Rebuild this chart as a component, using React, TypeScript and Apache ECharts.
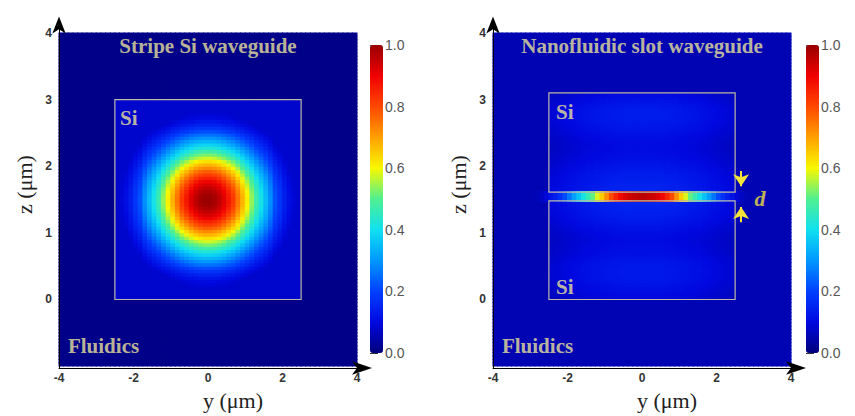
import React, { useEffect, useRef } from 'react';
import * as echarts from 'echarts';

// ---------- grid of the field maps ----------
const Y_MIN = -4;
const Y_MAX = 4;
const Z_MIN = -1;
const Z_MAX = 4;
const Y_CELL = 0.125; // 64 columns
const Z_CELL = 0.05; // 100 rows

const X_TICKS = [-4, -2, 0, 2, 4];
const Z_TICKS = [0, 1, 2, 3, 4];
const BAR_TICKS = [0, 0.2, 0.4, 0.6, 0.8, 1.0];

// ---------- stripe Si waveguide (left) ----------
// horizontal cut through the mode centre (z = 1.5), one value per column (y = -4 .. 4)
const leftModeY = [
  0, 0, 0, 0, 0, 0, 0, 0, 0, 0, 0, 0,
  0.075, 0.09, 0.11, 0.14, 0.18, 0.22, 0.29, 0.35, 0.41, 0.47, 0.54, 0.61, 0.68, 0.75, 0.82, 0.87, 0.92, 0.96, 0.985, 0.998,
  0.998, 0.985, 0.96, 0.92, 0.87, 0.82, 0.75, 0.68, 0.61, 0.54, 0.47, 0.41, 0.35, 0.29, 0.22, 0.18, 0.14, 0.11, 0.09, 0.075,
  0, 0, 0, 0, 0, 0, 0, 0, 0, 0, 0, 0,
];
// vertical cut through the mode centre (y = 0), one value per row (z = -1 .. 4)
const leftModeZ = [
  0, 0, 0, 0, 0, 0, 0, 0, 0, 0, 0, 0, 0, 0, 0, 0, 0, 0, 0, 0,
  0.06, 0.065, 0.072, 0.08, 0.093, 0.105, 0.125, 0.15, 0.18, 0.215, 0.26, 0.3, 0.342, 0.385, 0.431,
  0.478, 0.528, 0.578, 0.629, 0.679, 0.729, 0.776, 0.821, 0.862, 0.899, 0.932, 0.958, 0.978, 0.992, 0.999,
  0.999, 0.992, 0.978, 0.958, 0.932, 0.899, 0.862, 0.821, 0.776, 0.729, 0.679, 0.629, 0.578, 0.528, 0.478,
  0.431, 0.385, 0.342, 0.3, 0.26, 0.215, 0.18, 0.15, 0.125, 0.105, 0.093, 0.08, 0.072, 0.065, 0.06,
  0, 0, 0, 0, 0, 0, 0, 0, 0, 0, 0, 0, 0, 0, 0, 0, 0, 0, 0, 0,
];
const LEFT_CORE_LEVEL = 0.08;
const LEFT_FLUID_LEVEL = 0.012;
const leftBoxes = [[-2.5, 2.5, 0, 3]]; // [yMin, yMax, zMin, zMax]

// ---------- nanofluidic slot waveguide (right) ----------
// field along the slot, one value per column
const rightSlotY = [
  0.055, 0.055, 0.055, 0.055, 0.055, 0.055, 0.055, 0.055, 0.055, 0.06, 0.07, 0.09,
  0.12, 0.14, 0.17, 0.21, 0.26, 0.31, 0.36, 0.41, 0.46, 0.51, 0.58, 0.65, 0.72, 0.8, 0.85, 0.89, 0.92, 0.94, 0.95, 0.96,
  0.96, 0.95, 0.94, 0.92, 0.89, 0.85, 0.8, 0.72, 0.65, 0.58, 0.51, 0.46, 0.41, 0.36, 0.31, 0.26, 0.21, 0.17, 0.14, 0.12,
  0.09, 0.07, 0.06, 0.055, 0.055, 0.055, 0.055, 0.055, 0.055, 0.055, 0.055, 0.055,
];
// faint field inside the Si blocks: lateral shape and vertical level
const rightGlowY = [
  0.6, 0.6, 0.6, 0.6, 0.6, 0.6, 0.6, 0.6, 0.6, 0.6, 0.6, 0.6,
  0.65, 0.68, 0.71, 0.74, 0.77, 0.8, 0.83, 0.86, 0.88, 0.9, 0.92, 0.94, 0.96, 0.97, 0.98, 0.99, 1, 1, 1, 1,
  1, 1, 1, 1, 0.99, 0.98, 0.97, 0.96, 0.94, 0.92, 0.9, 0.88, 0.86, 0.83, 0.8, 0.77, 0.74, 0.71, 0.68, 0.65,
  0.6, 0.6, 0.6, 0.6, 0.6, 0.6, 0.6, 0.6, 0.6, 0.6, 0.6, 0.6,
];
const rightGlowZ = [
  0.055, 0.055, 0.055, 0.055, 0.055, 0.055, 0.055, 0.055, 0.055, 0.055,
  0.055, 0.055, 0.055, 0.055, 0.055, 0.055, 0.055, 0.055, 0.055, 0.055,
  0.1, 0.105, 0.11, 0.115, 0.12, 0.125, 0.128, 0.13, 0.13, 0.13, 0.128, 0.125, 0.12, 0.115, 0.112,
  0.11, 0.107, 0.105, 0.105, 0.108, 0.112, 0.118, 0.124, 0.13, 0.135, 0.14, 0.143, 0.146, 0.148, 0.15,
  0.15, 0.15,
  0.15, 0.148, 0.146, 0.143, 0.14, 0.137, 0.133, 0.128, 0.123, 0.118, 0.113, 0.11, 0.107, 0.105, 0.105,
  0.107, 0.11, 0.115, 0.12, 0.125, 0.13, 0.133, 0.135, 0.136, 0.135, 0.132, 0.127, 0.12, 0.113, 0.105,
  0.055, 0.055, 0.055, 0.055, 0.055, 0.055, 0.055, 0.055, 0.055,
  0.055, 0.055, 0.055, 0.055, 0.055, 0.055, 0.055, 0.055, 0.055,
];
const RIGHT_FLUID_LEVEL = 0.055;
const rightBoxes = [
  [-2.5, 2.5, 1.61, 3.1],
  [-2.5, 2.5, 0, 1.48],
];
const SLOT = [1.47, 1.62];

// ---------- colours ----------
const JET = ['#00007c', '#0008e0', '#0040ff', '#0098ff', '#10e0f0', '#50f090', '#f8f800', '#ffa000', '#ff4800', '#f00000', '#980000'];
const NOTE_COLOR = '#ece49a';
const ARROW_COLOR = '#f4e43a';

const inAnyBox = (boxes: number[][], y: number, z: number) =>
  boxes.some((b) => y > b[0] && y < b[1] && z > b[2] && z < b[3]);

function buildLeft() {
  const out: number[][] = [];
  for (let j = 0; j < leftModeZ.length; j++) {
    const z0 = Z_MIN + j * Z_CELL;
    const z1 = z0 + Z_CELL;
    for (let i = 0; i < leftModeY.length; i++) {
      const y0 = Y_MIN + i * Y_CELL;
      const y1 = y0 + Y_CELL;
      const floor = inAnyBox(leftBoxes, (y0 + y1) / 2, (z0 + z1) / 2) ? LEFT_CORE_LEVEL : LEFT_FLUID_LEVEL;
      out.push([y0, y1, z0, z1, Math.max(leftModeY[i] * leftModeZ[j], floor)]);
    }
  }
  return out;
}

function buildRight() {
  const out: number[][] = [];
  for (let j = 0; j < rightGlowZ.length; j++) {
    const z0 = Z_MIN + j * Z_CELL;
    const z1 = z0 + Z_CELL;
    for (let i = 0; i < rightGlowY.length; i++) {
      const y0 = Y_MIN + i * Y_CELL;
      const y1 = y0 + Y_CELL;
      const v = inAnyBox(rightBoxes, (y0 + y1) / 2, (z0 + z1) / 2) ? rightGlowY[i] * rightGlowZ[j] : RIGHT_FLUID_LEVEL;
      out.push([y0, y1, z0, z1, v]);
    }
  }
  return out;
}

function buildSlot() {
  return rightSlotY.map((v, i) => {
    const y0 = Y_MIN + i * Y_CELL;
    return [y0, y0 + Y_CELL, SLOT[0], SLOT[1], v];
  });
}

const cellRender = (_p: any, api: any) => {
  const a = api.coord([api.value(0), api.value(3)]);
  const b = api.coord([api.value(1), api.value(2)]);
  return {
    type: 'rect',
    shape: { x: a[0] - 0.5, y: a[1] - 0.5, width: b[0] - a[0] + 1, height: b[1] - a[1] + 1 },
    style: { fill: api.visual('color') },
  };
};

const boxRender = (_p: any, api: any) => {
  const a = api.coord([api.value(0), api.value(3)]);
  const b = api.coord([api.value(1), api.value(2)]);
  return {
    type: 'rect',
    shape: { x: a[0], y: a[1], width: b[0] - a[0], height: b[1] - a[1] },
    style: { fill: 'none', stroke: '#bcb8a6', lineWidth: 1.2 },
  };
};

const noteLabel = (align: string, extra: any = {}) => ({
  show: true,
  position: 'inside',
  align,
  verticalAlign: 'middle',
  formatter: '{b}',
  color: NOTE_COLOR,
  fontFamily: 'Liberation Serif',
  fontWeight: 'bold',
  fontSize: 21,
  ...extra,
});

const leftNotes = [
  { name: 'Stripe Si waveguide', value: [0, 3.8], label: noteLabel('center') },
  { name: 'Si', value: [-2.36, 2.72], label: noteLabel('left') },
  { name: 'Fluidics', value: [-3.76, -0.7], label: noteLabel('left') },
];
const rightNotes = [
  { name: 'Nanofluidic slot waveguide', value: [0, 3.8], label: noteLabel('center') },
  { name: 'Si', value: [-2.31, 2.82], label: noteLabel('left') },
  { name: 'Si', value: [-2.31, 0.19], label: noteLabel('left') },
  { name: 'Fluidics', value: [-3.76, -0.7], label: noteLabel('left') },
  { name: 'd', value: [3.17, 1.52], label: noteLabel('center', { color: ARROW_COLOR, fontStyle: 'italic', fontSize: 22 }) },
];

const plotXAxis = (gridIndex: number) => ({
  type: 'value',
  gridIndex,
  min: Y_MIN,
  max: Y_MAX,
  interval: 2,
  axisLine: { show: false },
  axisTick: { show: false },
  splitLine: { show: false },
  axisLabel: {
    margin: 6,
    fontSize: 12,
    fontWeight: 'bold',
    color: '#333',
    fontFamily: 'Liberation Sans',
    showMinLabel: true,
    showMaxLabel: true,
    formatter: (v: number) => (X_TICKS.includes(v) ? String(v) : ''),
  },
  name: 'y (μm)',
  nameLocation: 'middle',
  nameGap: 19,
  nameTextStyle: { fontFamily: 'Liberation Serif', fontSize: 22, color: '#222', padding: [0, 0, 0, 50] },
});

const plotYAxis = (gridIndex: number) => ({
  type: 'value',
  gridIndex,
  min: Z_MIN,
  max: Z_MAX,
  interval: 1,
  axisLine: { show: false },
  axisTick: { show: false },
  splitLine: { show: false },
  axisLabel: {
    margin: 7,
    fontSize: 12,
    fontWeight: 'bold',
    color: '#333',
    fontFamily: 'Liberation Sans',
    showMaxLabel: true,
    formatter: (v: number) => (Z_TICKS.includes(v) ? String(v) : ''),
  },
  name: 'z (μm)',
  nameLocation: 'middle',
  nameRotate: 90,
  nameGap: 24,
  nameTextStyle: { fontFamily: 'Liberation Serif', fontSize: 22, color: '#222', padding: [0, 0, 0, 30] },
});

const arrowXAxis = (gridIndex: number) => ({
  type: 'value',
  gridIndex,
  min: 0,
  max: 1,
  z: 10,
  axisLine: {
    show: true,
    symbol: ['none', 'arrow'],
    symbolSize: [10, 20],
    symbolOffset: [0, 10],
    lineStyle: { color: '#000', width: 1 },
  },
  axisTick: { show: false },
  axisLabel: { show: false },
  splitLine: { show: false },
});
const arrowYAxis = (gridIndex: number) => ({
  type: 'value',
  gridIndex,
  min: 0,
  max: 1,
  z: 10,
  axisLine: {
    show: true,
    symbol: ['none', 'arrow'],
    symbolSize: [10, 17],
    symbolOffset: [0, 8.5],
    lineStyle: { color: '#000', width: 1 },
  },
  axisTick: { show: false },
  axisLabel: { show: false },
  splitLine: { show: false },
});

const barXAxis = (gridIndex: number) => ({ type: 'value', gridIndex, min: 0, max: 1, show: false });
const barYAxis = (gridIndex: number) => ({
  type: 'value',
  gridIndex,
  position: 'right',
  min: 0,
  max: 1,
  interval: 0.2,
  axisLine: { show: false },
  axisTick: { show: true, length: 8, lineStyle: { color: '#333', width: 1 } },
  splitLine: { show: false },
  axisLabel: {
    margin: 2,
    fontSize: 14,
    color: '#555',
    fontFamily: 'Liberation Sans',
    showMaxLabel: true,
    formatter: (v: number) => (BAR_TICKS.some((t) => Math.abs(t - v) < 1e-6) ? v.toFixed(1) : ''),
  },
});

export default function App() {
  const ref = useRef<HTMLDivElement>(null);

  useEffect(() => {
    if (!ref.current) return;
    const chart = echarts.init(ref.current, null, { renderer: 'svg' });

    const option: any = {
      animation: false,
      backgroundColor: '#ffffff',
      grid: [
        { left: 59, top: 33, width: 298, height: 335 },
        { left: 59, top: 25, width: 303, height: 343 },
        { left: 370, top: 45, width: 13, height: 308 },
        { left: 493, top: 33, width: 298, height: 335 },
        { left: 493, top: 25, width: 303, height: 343 },
        { left: 806, top: 45, width: 13, height: 308 },
      ],
      xAxis: [plotXAxis(0), arrowXAxis(1), barXAxis(2), plotXAxis(3), arrowXAxis(4), barXAxis(5)],
      yAxis: [plotYAxis(0), arrowYAxis(1), barYAxis(2), plotYAxis(3), arrowYAxis(4), barYAxis(5)],
      visualMap: [
        {
          type: 'continuous',
          min: 0,
          max: 1,
          dimension: 4,
          seriesIndex: [0],
          inRange: { color: JET },
          calculable: false,
          hoverLink: false,
          left: 370,
          top: 45,
          padding: 0,
          itemWidth: 13,
          itemHeight: 308,
        },
        {
          type: 'continuous',
          min: 0,
          max: 1,
          dimension: 4,
          seriesIndex: [3, 4],
          inRange: { color: JET },
          calculable: false,
          hoverLink: false,
          left: 806,
          top: 45,
          padding: 0,
          itemWidth: 13,
          itemHeight: 308,
        },
      ],
      series: [
        {
          type: 'custom',
          name: 'left field',
          xAxisIndex: 0,
          yAxisIndex: 0,
          clip: true,
          silent: true,
          encode: { x: [0, 1], y: [2, 3] },
          renderItem: cellRender,
          data: buildLeft(),
          z: 2,
        },
        {
          type: 'custom',
          name: 'left core',
          xAxisIndex: 0,
          yAxisIndex: 0,
          silent: true,
          encode: { x: [0, 1], y: [2, 3] },
          renderItem: boxRender,
          data: leftBoxes,
          z: 3,
        },
        {
          type: 'scatter',
          name: 'left notes',
          xAxisIndex: 0,
          yAxisIndex: 0,
          silent: true,
          symbolSize: 1,
          itemStyle: { color: 'rgba(0,0,0,0)' },
          data: leftNotes,
          z: 4,
        },
        {
          type: 'custom',
          name: 'right field',
          xAxisIndex: 3,
          yAxisIndex: 3,
          clip: true,
          silent: true,
          encode: { x: [0, 1], y: [2, 3] },
          renderItem: cellRender,
          data: buildRight(),
          z: 2,
        },
        {
          type: 'custom',
          name: 'slot field',
          xAxisIndex: 3,
          yAxisIndex: 3,
          clip: true,
          silent: true,
          encode: { x: [0, 1], y: [2, 3] },
          renderItem: cellRender,
          data: buildSlot(),
          z: 2.5,
        },
        {
          type: 'custom',
          name: 'right cores',
          xAxisIndex: 3,
          yAxisIndex: 3,
          silent: true,
          encode: { x: [0, 1], y: [2, 3] },
          renderItem: boxRender,
          data: rightBoxes,
          z: 3,
        },
        {
          type: 'scatter',
          name: 'right notes',
          xAxisIndex: 3,
          yAxisIndex: 3,
          silent: true,
          symbolSize: 1,
          itemStyle: { color: 'rgba(0,0,0,0)' },
          data: rightNotes,
          z: 4,
          markLine: {
            silent: true,
            symbol: ['none', 'arrow'],
            symbolSize: 12,
            label: { show: false },
            lineStyle: { color: ARROW_COLOR, width: 2, type: 'solid' },
            data: [
              [{ coord: [2.66, 1.93] }, { coord: [2.66, 1.7] }],
              [{ coord: [2.66, 1.16] }, { coord: [2.66, 1.39] }],
            ],
          },
        },
      ],
    };

    chart.setOption(option);
    return () => chart.dispose();
  }, []);

  return (
    <div
      ref={ref}
      style={{ position: 'fixed', left: 0, top: 0, width: 855, height: 416, background: '#fff' }}
    />
  );
}
